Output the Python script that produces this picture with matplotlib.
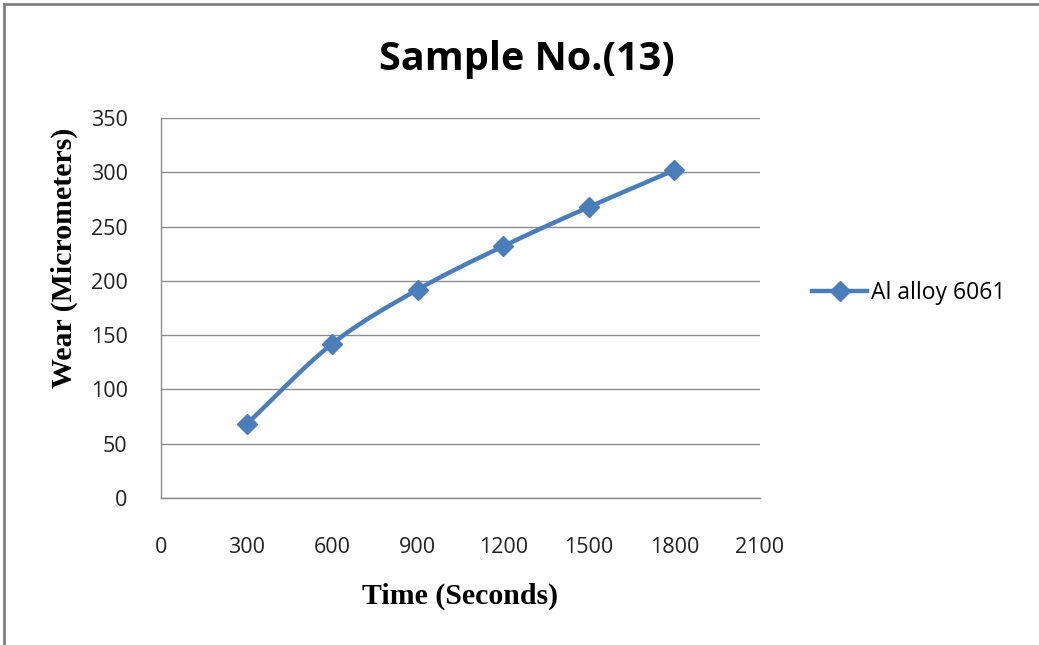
import numpy as np
import matplotlib
matplotlib.use('Agg')
import matplotlib.pyplot as plt
from matplotlib.lines import Line2D

time_s = [300, 600, 900, 1200, 1500, 1800]
wear_um = [68, 142, 192, 232, 268, 302]
series_name = 'Al alloy 6061'
x_ticks = [0, 300, 600, 900, 1200, 1500, 1800, 2100]
y_ticks = [0, 50, 100, 150, 200, 250, 300, 350]

line_color = '#4A7EBB'
grid_color = '#8C8C8C'


def smooth(xs, ys, n=30):
    # catmull-rom style smoothing like the excel "smoothed line" option
    xs = np.asarray(xs, float)
    ys = np.asarray(ys, float)
    px = np.concatenate([[2 * xs[0] - xs[1]], xs, [2 * xs[-1] - xs[-2]]])
    py = np.concatenate([[2 * ys[0] - ys[1]], ys, [2 * ys[-1] - ys[-2]]])
    ox, oy = [], []
    t = np.linspace(0, 1, n)
    for i in range(1, len(px) - 2):
        for p, o in ((px, ox), (py, oy)):
            p0, p1, p2, p3 = p[i - 1], p[i], p[i + 1], p[i + 2]
            o.extend(0.5 * ((2 * p1) + (-p0 + p2) * t
                            + (2 * p0 - 5 * p1 + 4 * p2 - p3) * t ** 2
                            + (-p0 + 3 * p1 - 3 * p2 + p3) * t ** 3))
    return ox, oy


fig = plt.figure(figsize=(10.39, 6.45), dpi=100)
ax = fig.add_axes([0.155, 0.228, 0.5765, 0.589])

sx, sy = smooth(time_s, wear_um)
ax.plot(sx, sy, color=line_color, lw=3.2, solid_capstyle='round')
ax.plot(time_s, wear_um, ls='none', marker='D', ms=10, color=line_color)

ax.set_xlim(0, 2100)
ax.set_ylim(0, 350)
ax.set_xticks(x_ticks)
ax.set_yticks(y_ticks)
ax.tick_params(length=0, labelsize=15.5, colors='#222222')
ax.tick_params(axis='y', pad=24)
ax.tick_params(axis='x', pad=28)
for lab in ax.get_xticklabels() + ax.get_yticklabels():
    lab.set_family('Open Sans')
ax.yaxis.grid(True, color=grid_color, lw=1)
ax.set_axisbelow(True)
for s in ['top', 'right']:
    ax.spines[s].set_visible(False)
for s in ['left', 'bottom']:
    ax.spines[s].set_color(grid_color)
    ax.spines[s].set_linewidth(1)

fig.text(0.507, 0.907, 'Sample No.(13)', ha='center', va='center',
         fontsize=28.5, fontweight='bold', family='Open Sans')
fig.text(0.443, 0.075, 'Time (Seconds)', ha='center', va='center',
         fontsize=21.5, fontweight='bold', family='Liberation Serif')
fig.text(0.062, 0.6, 'Wear (Micrometers)', ha='center', va='center', rotation=90,
         fontsize=21.5, fontweight='bold', family='Liberation Serif')

handle = Line2D([], [], color=line_color, lw=3.2, marker='D', ms=10)
fig.legend([handle], [series_name], loc='center left', bbox_to_anchor=(0.762, 0.546),
           frameon=False, handlelength=2.4, handletextpad=0.15,
           prop={'family': 'Open Sans', 'size': 16.5})

# outer frame lines on top and left, as in the reference
fig.add_artist(Line2D([0.004, 1], [0.994, 0.994], color='#808080', lw=2, transform=fig.transFigure))
fig.add_artist(Line2D([0.004, 0.004], [0.0, 0.994], color='#808080', lw=2, transform=fig.transFigure))

fig.savefig('out.png', dpi=100)
